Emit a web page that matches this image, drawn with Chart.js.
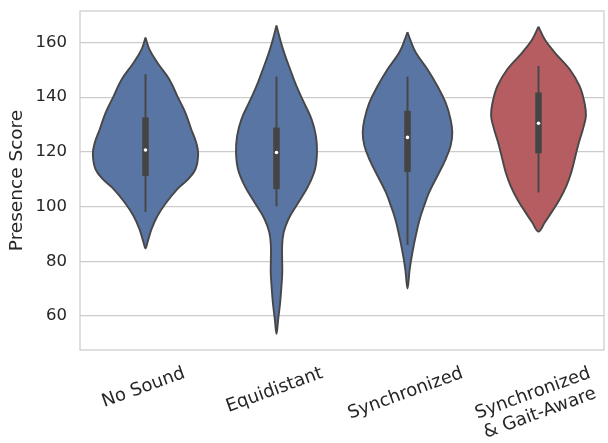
<!DOCTYPE html>
<html>
<head>
<meta charset="utf-8">
<script src="https://cdn.jsdelivr.net/npm/chart.js@4.4.1/dist/chart.umd.min.js"></script>
<style>
  html, body { margin: 0; padding: 0; background: #fff; }
  #wrap { width: 608px; height: 443px; }
</style>
</head>
<body>
<div id="wrap"><canvas id="violins"></canvas></div>
<script>
var categories = ["No Sound", "Equidistant", "Synchronized", ["Synchronized", "& Gait-Aware"]];
var yTicks = [60, 80, 100, 120, 140, 160];

// violin outlines: score along the violin and its half width (in category units)
var noSoundScore = [161.8, 157.5, 152.6, 146.5, 140.4, 134.4, 128.3, 123.4, 119.2, 113.7, 110.0, 106.4, 101.5, 96.6, 91.8, 86.9, 84.7];
var noSoundWidth = [0, 0.030, 0.091, 0.182, 0.243, 0.304, 0.349, 0.387, 0.402, 0.382, 0.324, 0.243, 0.159, 0.091, 0.046, 0.015, 0];

var equidistantScore = [166.2, 161.1, 156.3, 150.2, 144.1, 138.0, 131.9, 125.8, 119.8, 113.7, 107.6, 101.5, 95.4, 90.6, 85.7, 80.8, 76.0, 71.1, 65.0, 58.9, 53.5];
var equidistantWidth = [0, 0.028, 0.058, 0.104, 0.152, 0.210, 0.268, 0.301, 0.309, 0.294, 0.243, 0.167, 0.091, 0.055, 0.043, 0.043, 0.044, 0.038, 0.028, 0.013, 0];

var synchronizedScore = [163.8, 161.1, 156.3, 150.2, 144.1, 138.0, 131.9, 127.1, 122.2, 117.3, 111.2, 105.2, 100.3, 95.4, 89.3, 83.3, 77.2, 70.1];
var synchronizedWidth = [0, 0.020, 0.063, 0.152, 0.228, 0.291, 0.329, 0.342, 0.329, 0.291, 0.228, 0.165, 0.127, 0.093, 0.063, 0.038, 0.017, 0];

var gaitAwareScore = [165.8, 161.1, 156.3, 150.2, 144.1, 138.0, 133.1, 128.3, 122.2, 117.3, 112.5, 107.6, 102.7, 97.9, 94.2, 90.9];
var gaitAwareWidth = [0, 0.048, 0.124, 0.238, 0.313, 0.351, 0.362, 0.339, 0.301, 0.276, 0.250, 0.213, 0.162, 0.099, 0.048, 0];

// inner box plot
var whiskerLow = [98.1, 100.1, 86.0, 105.2];
var whiskerHigh = [148.4, 147.5, 147.5, 151.4];
var boxLow = [111.2, 106.4, 112.7, 119.5];
var boxHigh = [132.6, 128.9, 135.0, 141.7];
var medians = [120.7, 119.8, 125.3, 130.5];

var violinScores = [noSoundScore, equidistantScore, synchronizedScore, gaitAwareScore];
var violinWidths = [noSoundWidth, equidistantWidth, synchronizedWidth, gaitAwareWidth];
var fillColors = ["#5875a4", "#5875a4", "#5875a4", "#b55d60"];
var edgeColor = "#474747";
var textColor = "#262626";

function outline(i) {
  var s = violinScores[i], w = violinWidths[i], pts = [], k;
  for (k = 0; k < s.length; k++) pts.push({ x: i + w[k], y: s[k] });
  for (k = s.length - 2; k >= 0; k--) pts.push({ x: i - w[k], y: s[k] });
  return pts;
}

var datasets = [];
categories.forEach(function (c, i) {
  datasets.push({
    data: outline(i),
    borderColor: edgeColor,
    backgroundColor: fillColors[i],
    borderWidth: 1.9,
    fill: "shape",
    tension: 0.4,
    pointRadius: 0,
    order: 3
  });
  datasets.push({
    data: [{ x: i, y: whiskerLow[i] }, { x: i, y: whiskerHigh[i] }],
    borderColor: edgeColor,
    borderWidth: 2,
    pointRadius: 0,
    fill: false,
    order: 2
  });
  datasets.push({
    data: [{ x: i, y: boxLow[i] }, { x: i, y: boxHigh[i] }],
    borderColor: "#444444",
    borderWidth: 6.5,
    pointRadius: 0,
    fill: false,
    order: 1
  });
  datasets.push({
    data: [{ x: i, y: medians[i] }],
    showLine: false,
    pointRadius: 1.8,
    pointBorderWidth: 0,
    pointBackgroundColor: "#ffffff",
    order: 0
  });
});

var framePlugin = {
  id: "frame",
  beforeDatasetsDraw: function (chart) {
    var a = chart.chartArea, ctx = chart.ctx;
    ctx.save();
    ctx.strokeStyle = "#cccccc";
    ctx.lineWidth = 1.25;
    ctx.strokeRect(a.left, a.top, a.right - a.left, a.bottom - a.top);
    ctx.restore();
  },
  afterDraw: function (chart) {
    var ctx = chart.ctx, xs = chart.scales.x;
    var ang = 20 * Math.PI / 180, lh = 21;
    ctx.save();
    ctx.font = "18px 'DejaVu Sans'";
    ctx.fillStyle = textColor;
    categories.forEach(function (label, i) {
      var lines = Array.isArray(label) ? label : [label];
      var w = 0;
      lines.forEach(function (t) { w = Math.max(w, ctx.measureText(t).width); });
      var h = lines.length * lh;
      var bh = w * Math.sin(ang) + h * Math.cos(ang);
      var cx = xs.getPixelForValue(i) - 2;
      var cy = chart.chartArea.bottom + 13 + bh / 2;
      ctx.save();
      ctx.translate(cx, cy);
      ctx.rotate(-ang);
      ctx.textAlign = "center";
      ctx.textBaseline = "middle";
      lines.forEach(function (t, k) {
        ctx.fillText(t, 0, (k - (lines.length - 1) / 2) * lh);
      });
      ctx.restore();
    });
    ctx.restore();
  }
};

new Chart(document.getElementById("violins").getContext("2d"), {
  type: "line",
  data: { datasets: datasets },
  options: {
    responsive: true,
    maintainAspectRatio: false,
    animation: false,
    layout: { padding: { top: 11, right: 1, bottom: 93, left: 0 } },
    plugins: { legend: { display: false }, tooltip: { enabled: false } },
    scales: {
      x: {
        type: "linear",
        min: -0.5,
        max: 3.5,
        display: false
      },
      y: {
        min: 47.6,
        max: 171.5,
        afterBuildTicks: function (s) {
          s.ticks = yTicks.map(function (v) { return { value: v }; });
        },
        afterFit: function (s) {
          s.width = 80;
          s.paddingTop = 0;
          s.paddingBottom = 0;
          s.paddingLeft = 0;
          s.paddingRight = 0;
        },
        grid: { color: "#cccccc", lineWidth: 1.2, drawTicks: false },
        border: { display: false },
        ticks: { padding: 13, color: textColor, font: { family: "DejaVu Sans", size: 16.5 } },
        title: {
          display: true,
          text: "Presence Score",
          color: textColor,
          font: { family: "DejaVu Sans", size: 18.5 },
          padding: { top: 6, bottom: 0 }
        }
      }
    }
  },
  plugins: [framePlugin]
});
</script>
</body>
</html>
